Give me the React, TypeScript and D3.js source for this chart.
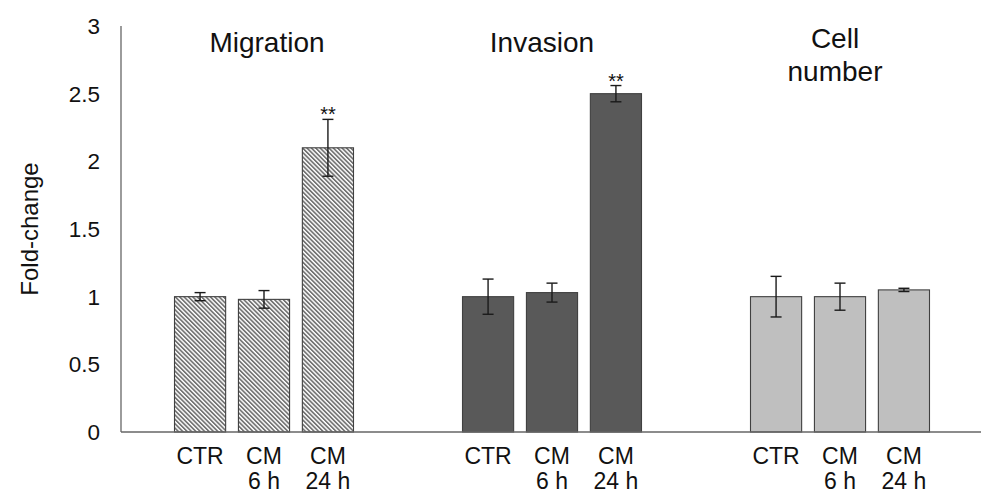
import React from "react";
import * as d3 from "d3";

// Assay groups and the conditions measured in each
const groups = ["Migration", "Invasion", "Cell number"];
const conditions = ["CTR", "CM 6 h", "CM 24 h"];
const conditionLines = [["CTR"], ["CM", "6 h"], ["CM", "24 h"]];

// Fold-change means and error (±) per condition
const migrationMean = [1.0, 0.98, 2.1];
const migrationErr = [0.03, 0.065, 0.21];
const invasionMean = [1.0, 1.03, 2.5];
const invasionErr = [0.13, 0.07, 0.06];
const cellMean = [1.0, 1.0, 1.05];
const cellErr = [0.15, 0.1, 0.012];

// Significance marks
const migrationSig = ["", "", "**"];
const invasionSig = ["", "", "**"];
const cellSig = ["", "", ""];

const yTicks = [0, 0.5, 1, 1.5, 2, 2.5, 3];

const W = 981;
const H = 493;
const FONT = "Liberation Sans, Arial, sans-serif";

const series = [
  { group: groups[0], mean: migrationMean, err: migrationErr, sig: migrationSig, fill: "url(#hatch)", titleLines: ["Migration"], titleDx: 3, titleY: 52 },
  { group: groups[1], mean: invasionMean, err: invasionErr, sig: invasionSig, fill: "#595959", titleLines: ["Invasion"], titleDx: -10, titleY: 52 },
  { group: groups[2], mean: cellMean, err: cellErr, sig: cellSig, fill: "#bfbfbf", titleLines: ["Cell", "number"], titleDx: -5, titleY: 48 },
];

export default function App() {
  const x0 = 121;
  const y = d3.scaleLinear().domain([0, 3]).range([432, 26]);
  const gx = d3.scaleBand<string>().domain(groups).range([120, 984]).padding(0);
  const bx = d3
    .scaleBand<string>()
    .domain(conditions)
    .range([-89.5, 89.5])
    .paddingInner(0.2)
    .paddingOuter(0);
  const bw = bx.bandwidth();
  const capHalf = 5.5;

  return (
    <svg
      width={W}
      height={H}
      style={{ position: "absolute", left: 0, top: 0, background: "#fff" }}
      fontFamily={FONT}
    >
      <defs>
        <pattern
          id="hatch"
          patternUnits="userSpaceOnUse"
          width={3.1}
          height={3.1}
          patternTransform="rotate(-45)"
        >
          <rect width={3.1} height={3.1} fill="#ffffff" />
          <rect width={1.7} height={3.1} fill="#747474" />
        </pattern>
      </defs>

      {/* y axis */}
      <line x1={x0} x2={x0} y1={y(3)} y2={y(0)} stroke="#666" strokeWidth={1.3} />
      {yTicks.map((t) => (
        <text
          key={t}
          x={100}
          y={y(t)}
          dy="0.36em"
          textAnchor="end"
          fontSize={22.5}
          fill="#111"
        >
          {String(t)}
        </text>
      ))}
      <text
        transform={`translate(38,${(y(0) + y(3)) / 2}) rotate(-90)`}
        textAnchor="middle"
        fontSize={24}
        fill="#111"
      >
        Fold-change
      </text>

      {/* bars */}
      {series.map((s) => {
        const cx = (gx(s.group) as number) + gx.bandwidth() / 2;
        return (
          <g key={s.group}>
            {conditions.map((c, i) => {
              const left = cx + (bx(c) as number);
              const mid = left + bw / 2;
              const top = y(s.mean[i]);
              const eTop = y(s.mean[i] + s.err[i]);
              const eBot = y(s.mean[i] - s.err[i]);
              return (
                <g key={c}>
                  <rect
                    x={left}
                    y={top}
                    width={bw}
                    height={y(0) - top}
                    fill={s.fill}
                    stroke="#404040"
                    strokeWidth={1.1}
                  />
                  <g stroke="#1a1a1a" strokeWidth={1.4}>
                    <line x1={mid} x2={mid} y1={eTop} y2={eBot} />
                    <line x1={mid - capHalf} x2={mid + capHalf} y1={eTop} y2={eTop} />
                    <line x1={mid - capHalf} x2={mid + capHalf} y1={eBot} y2={eBot} />
                  </g>
                  {s.sig[i] && (
                    <text
                      x={mid}
                      y={eTop + 2}
                      textAnchor="middle"
                      fontSize={20}
                      fill="#111"
                    >
                      {s.sig[i]}
                    </text>
                  )}
                  {conditionLines[i].map((ln, k) => (
                    <text
                      key={k}
                      x={mid}
                      y={464 + k * 25}
                      textAnchor="middle"
                      fontSize={23}
                      fill="#111"
                    >
                      {ln}
                    </text>
                  ))}
                </g>
              );
            })}
            {s.titleLines.map((ln, k) => (
              <text
                key={k}
                x={cx + s.titleDx}
                y={s.titleY + k * 33}
                textAnchor="middle"
                fontSize={28}
                fill="#111"
              >
                {ln}
              </text>
            ))}
          </g>
        );
      })}

      {/* x axis */}
      <line x1={x0} x2={W} y1={y(0)} y2={y(0)} stroke="#666" strokeWidth={1.3} />
    </svg>
  );
}
